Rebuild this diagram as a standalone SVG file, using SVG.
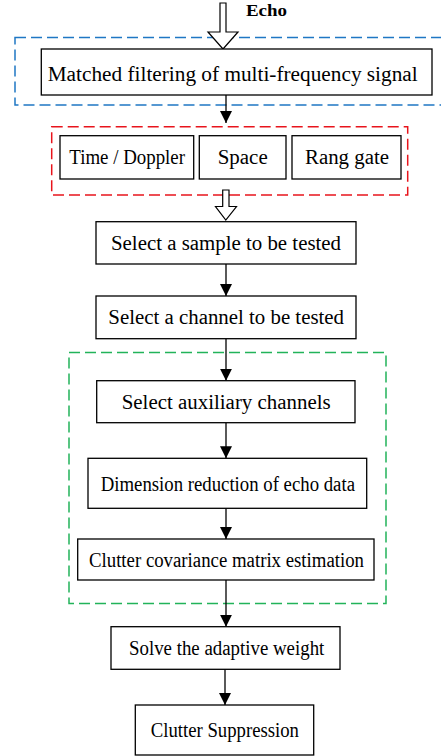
<svg xmlns="http://www.w3.org/2000/svg" width="441" height="756" viewBox="0 0 441 756">
<defs>
<marker id="ah" markerWidth="12" markerHeight="12" viewBox="0 0 12 12" refX="12" refY="6" orient="auto" markerUnits="userSpaceOnUse">
<path d="M0,0 L12,6 L0,12 Z" fill="#000"/>
</marker>
<style>
.box{fill:#fff;stroke:#000;stroke-width:1.3}
.t{font-family:"Liberation Serif","Times New Roman",serif;font-size:20px;fill:#000}
.line{stroke:#000;stroke-width:1.3;fill:none}
.hollow{fill:#fff;stroke:#000;stroke-width:1.2}
.grp{fill:none;stroke-width:1.5;stroke-dasharray:11 5}
</style>
</defs>
<rect x="0" y="0" width="441" height="756" fill="#fff"/>
<g id="groups">
<rect id="blue-group" class="grp" x="15" y="37.5" width="440" height="67.5" stroke="#1f77c4"/>
<rect id="red-group" class="grp" x="51.7" y="126.7" width="356" height="68.3" stroke="#e8141c"/>
<rect id="green-group" class="grp" x="69" y="352.5" width="317" height="251" stroke="#22b35a"/>
</g>
<g id="connectors">
<path class="hollow" d="M220,3 L226,3 L226,32 L238,32 L223,49 L208,32 L220,32 Z"/>
<line class="line" x1="226" y1="95" x2="226" y2="123" marker-end="url(#ah)"/>
<path class="hollow" d="M222.7,190 L229,190 L229,206.5 L236.5,206.5 L225.8,220 L215.5,206.5 L222.7,206.5 Z"/>
<line class="line" x1="226" y1="264" x2="226" y2="296" marker-end="url(#ah)"/>
<line class="line" x1="226" y1="338.7" x2="226" y2="380.7" marker-end="url(#ah)"/>
<line class="line" x1="226" y1="422.7" x2="226" y2="458.3" marker-end="url(#ah)"/>
<line class="line" x1="226" y1="508.3" x2="226" y2="539" marker-end="url(#ah)"/>
<line class="line" x1="226" y1="580" x2="226" y2="626.7" marker-end="url(#ah)"/>
<line class="line" x1="225" y1="669.3" x2="225" y2="705" marker-end="url(#ah)"/>
</g>
<text x="246" y="16" textLength="41" lengthAdjust="spacingAndGlyphs" style="font-family:'Liberation Serif','Times New Roman',serif;font-size:16px;font-weight:bold">Echo</text>
<g id="n-matched">
<rect class="box" x="41.3" y="49" width="390.7" height="46"/>
<text class="t" x="47.7" y="81" textLength="370" lengthAdjust="spacingAndGlyphs">Matched filtering of multi-frequency signal</text>
</g>
<g id="n-time">
<rect class="box" x="60" y="135.7" width="133.7" height="43.3"/>
<text class="t" x="69.3" y="164" textLength="115.7" lengthAdjust="spacingAndGlyphs">Time / Doppler</text>
</g>
<g id="n-space">
<rect class="box" x="199.3" y="135.7" width="86.7" height="43.3"/>
<text class="t" x="217.7" y="164" textLength="50" lengthAdjust="spacingAndGlyphs">Space</text>
</g>
<g id="n-rang">
<rect class="box" x="292" y="135.7" width="109" height="43.3"/>
<text class="t" x="305" y="164" textLength="84" lengthAdjust="spacingAndGlyphs">Rang gate</text>
</g>
<g id="n-sample">
<rect class="box" x="96" y="221.7" width="260" height="42.3"/>
<text class="t" x="111" y="250" textLength="230" lengthAdjust="spacingAndGlyphs">Select a sample to be tested</text>
</g>
<g id="n-channel">
<rect class="box" x="96" y="296" width="260" height="42.7"/>
<text class="t" x="108.3" y="324.3" textLength="235.7" lengthAdjust="spacingAndGlyphs">Select a channel to be tested</text>
</g>
<g id="n-aux">
<rect class="box" x="96.7" y="380.7" width="258.3" height="42"/>
<text class="t" x="121.7" y="409" textLength="209" lengthAdjust="spacingAndGlyphs">Select auxiliary channels</text>
</g>
<g id="n-dim">
<rect class="box" x="88" y="458.3" width="278.7" height="50"/>
<text class="t" x="100.7" y="490.7" textLength="254.3" lengthAdjust="spacingAndGlyphs">Dimension reduction of echo data</text>
</g>
<g id="n-cov">
<rect class="box" x="77.7" y="539" width="296.3" height="41"/>
<text class="t" x="89" y="566.7" textLength="275" lengthAdjust="spacingAndGlyphs">Clutter covariance matrix estimation</text>
</g>
<g id="n-solve">
<rect class="box" x="111" y="626.7" width="229" height="42.6"/>
<text class="t" x="129" y="655" textLength="195.3" lengthAdjust="spacingAndGlyphs">Solve the adaptive weight</text>
</g>
<g id="n-supp">
<rect class="box" x="135.3" y="705" width="178.4" height="50"/>
<text class="t" x="150.7" y="737.3" textLength="148.3" lengthAdjust="spacingAndGlyphs">Clutter Suppression</text>
</g>
</svg>
